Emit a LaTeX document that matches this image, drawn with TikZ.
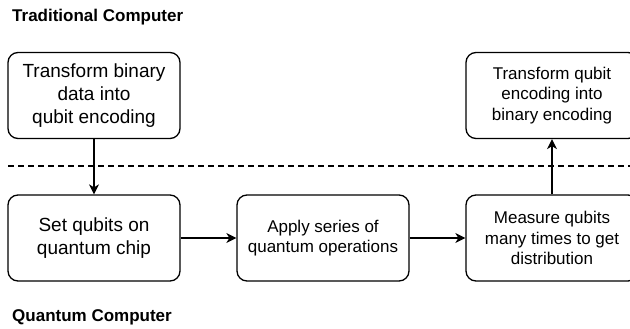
\documentclass[tikz,border=0pt]{standalone}
\usepackage{fontspec}
\setmainfont{Liberation Sans}
\usetikzlibrary{arrows.meta}
\begin{document}
\begin{tikzpicture}[x=1pt,y=-1pt,
  box/.style={draw, line width=1.3pt, rounded corners=10pt, minimum width=172pt, minimum height=86pt, inner sep=0pt, align=center},
  bigtxt/.style={font=\fontsize{19}{22.8}\selectfont},
  smalltxt/.style={font=\fontsize{17}{20.4}\selectfont},
  title/.style={anchor=base west, inner sep=0pt, font=\fontsize{17}{20}\selectfont\bfseries},
  conn/.style={line width=1.3pt, -{Stealth[length=10pt,width=10pt,inset=3pt]}},
  sep/.style={line width=1.2pt, dash pattern=on 6pt off 4pt}]
\useasboundingbox (0,0) rectangle (630,329);
\node[title] (t1) at (12,22) {Traditional Computer};
\node[title] (t2) at (12,321) {Quantum Computer};
\coordinate (sl) at (8,166);
\coordinate (sr) at (630,166);
\draw[sep] (sl) -- (sr);
\node[box,bigtxt] (b1) at (94,95.5) {Transform binary\\data into\\qubit encoding};
\node[box,bigtxt] (b2) at (94,238) {Set qubits on\\quantum chip};
\node[box,smalltxt] (b3) at (323,238) {Apply series of\\quantum operations};
\node[box,smalltxt] (b4) at (552,238) {Measure qubits\\many times to get\\distribution};
\node[box,smalltxt] (b5) at (552,95.5) {Transform qubit\\encoding into\\binary encoding};
\draw[conn] (b1) -- (b2);
\draw[conn] (b2) -- (b3);
\draw[conn] (b3) -- (b4);
\draw[conn] (b4) -- (b5);
\end{tikzpicture}
\end{document}
